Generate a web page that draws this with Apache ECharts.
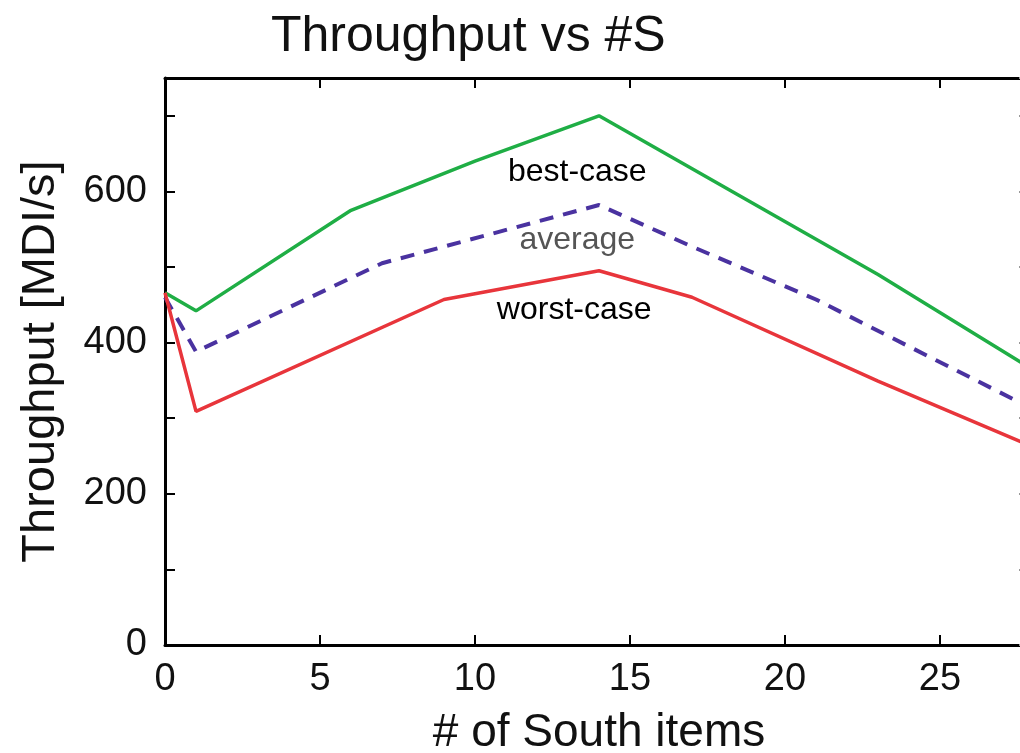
<!DOCTYPE html>
<html>
<head>
<meta charset="utf-8">
<script src="https://cdn.jsdelivr.net/npm/echarts@6/dist/echarts.min.js"></script>
<style>
  html, body { margin: 0; padding: 0; background: #fff; overflow: hidden; width: 1020px; height: 753px; }
  #chart { width: 1045px; height: 753px; }
</style>
</head>
<body>
<div id="chart"></div>
<script>
// ---- data ----
const bestX = [0, 1, 6, 10, 14, 23, 28];
const bestY = [466, 442, 575, 640, 700, 490, 364];
const avgX = [0, 1, 7, 14, 17, 21, 28];
const avgY = [460, 388, 505, 582, 527, 457, 312];
const worstX = [0, 1, 9, 14, 17, 23, 28];
const worstY = [466, 309, 457, 495, 460, 349, 262];

const labelNames = ['best-case', 'average', 'worst-case'];
const labelX = [13.3, 13.3, 13.2];
const labelY = [625, 536, 443];

const yTickLabels = [0, 200, 400, 600];
const xTickLabels = [0, 5, 10, 15, 20, 25];

const FONT = 'Liberation Sans, Arial, Helvetica, sans-serif';

function pairs(xs, ys) { return xs.map((x, i) => [x, ys[i]]); }

const chart = echarts.init(document.getElementById('chart'));

const labelMarks = labelNames.map((n, i) => ({
  coord: [labelX[i], labelY[i]],
  value: n,
  symbol: 'rect',
  symbolSize: 1,
  itemStyle: { color: 'rgba(0,0,0,0)' },
  label: {
    show: true,
    position: 'inside',
    formatter: n,
    fontFamily: FONT,
    fontSize: 32,
    color: i === 1 ? '#555' : '#000'
  }
}));

chart.setOption({
  animation: false,
  backgroundColor: '#fff',
  title: {
    text: 'Throughput vs #S',
    left: 266,
    top: 7,
    textStyle: { fontFamily: FONT, fontSize: 50, fontWeight: 'normal', color: '#111' }
  },
  grid: { left: 165, top: 78, right: 12, bottom: 108, containLabel: false, outerBoundsMode: 'none' },
  xAxis: [
    {
      type: 'value', min: 0, max: 28, interval: 5,
      name: '# of South items', nameLocation: 'middle', nameGap: 65,
      nameTextStyle: { fontFamily: FONT, fontSize: 46, color: '#111' },
      axisLine: { show: true, onZero: false, lineStyle: { color: '#000', width: 3 } },
      axisTick: { show: true, inside: true, length: 10, lineStyle: { color: '#000', width: 2 } },
      axisLabel: {
        fontFamily: FONT, fontSize: 38, color: '#111', margin: 16,
        formatter: v => (xTickLabels.indexOf(v) >= 0 ? String(v) : '')
      },
      splitLine: { show: false }
    },
    {
      type: 'value', min: 0, max: 28, interval: 5, position: 'top',
      axisLine: { show: true, onZero: false, lineStyle: { color: '#000', width: 3 } },
      axisTick: { show: true, inside: true, length: 10, lineStyle: { color: '#000', width: 2 } },
      axisLabel: { show: false },
      splitLine: { show: false }
    }
  ],
  yAxis: [
    {
      type: 'value', min: 0, max: 750, interval: 100,
      name: 'Throughput [MDI/s]', nameLocation: 'middle', nameGap: 100,
      nameTextStyle: { fontFamily: FONT, fontSize: 47, color: '#111' },
      axisLine: { show: true, onZero: false, lineStyle: { color: '#000', width: 3 } },
      axisTick: { show: true, inside: true, length: 10, lineStyle: { color: '#000', width: 2 } },
      axisLabel: {
        fontFamily: FONT, fontSize: 38, color: '#111', margin: 18,
        formatter: v => (yTickLabels.indexOf(v) >= 0 ? String(v) : '')
      },
      splitLine: { show: false }
    },
    {
      type: 'value', min: 0, max: 750, interval: 100, position: 'right',
      axisLine: { show: true, onZero: false, lineStyle: { color: '#000', width: 3 } },
      axisTick: { show: true, inside: true, length: 14, lineStyle: { color: '#999', width: 2 } },
      axisLabel: { show: false },
      splitLine: { show: false }
    }
  ],
  series: [
    {
      name: 'best-case', type: 'line', data: pairs(bestX, bestY),
      showSymbol: false, symbol: 'none',
      lineStyle: { color: '#1fae45', width: 3.5 },
      markPoint: { silent: true, data: [labelMarks[0]] }
    },
    {
      name: 'average', type: 'line', data: pairs(avgX, avgY),
      showSymbol: false, symbol: 'none',
      lineStyle: { color: '#4a32a0', width: 4, type: [14, 10] },
      markPoint: { silent: true, data: [labelMarks[1]] }
    },
    {
      name: 'worst-case', type: 'line', data: pairs(worstX, worstY),
      showSymbol: false, symbol: 'none',
      lineStyle: { color: '#e8353b', width: 3.5 },
      markPoint: { silent: true, data: [labelMarks[2]] }
    }
  ]
});
</script>
</body>
</html>
